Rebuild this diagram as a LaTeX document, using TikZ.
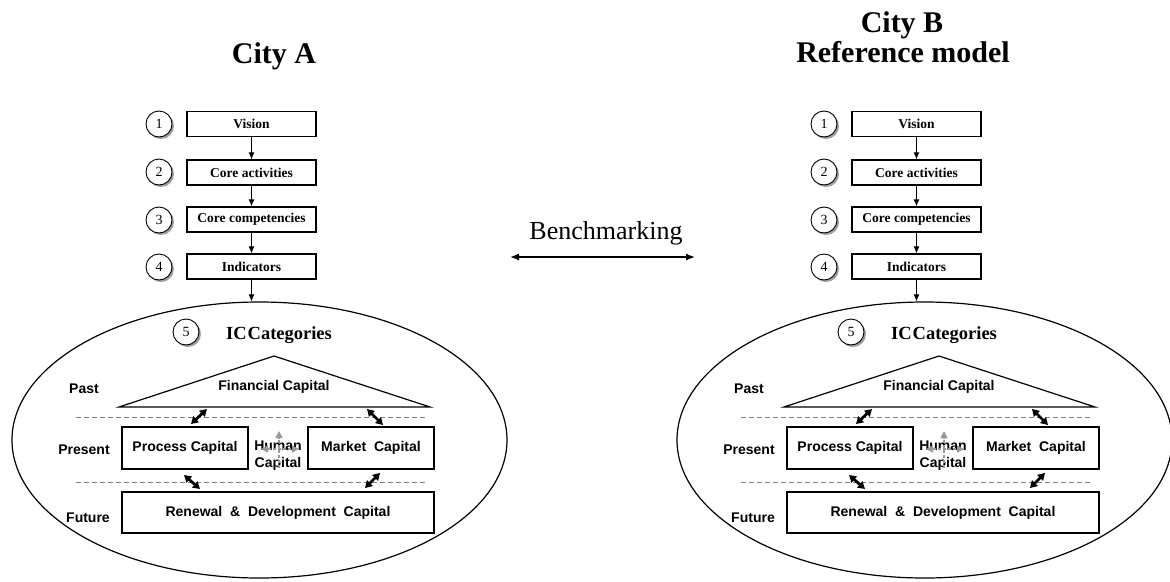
\documentclass[tikz,border=0pt]{standalone}
\usepackage{fontspec}
\setmainfont{Liberation Serif}
\setsansfont{Liberation Sans}
\usetikzlibrary{arrows.meta,shadows,shapes.geometric}

\tikzset{
  stagebox/.style={draw, line width=1.2pt, minimum width=129pt, minimum height=25pt, inner sep=0pt,
    font=\bfseries\fontsize{13.5}{15}\selectfont},
  numcirc/.style={circle, draw, line width=0.9pt, minimum size=26pt, inner sep=0pt, fill=white,
    font=\fontsize{14}{15}\selectfont,
    drop shadow={shadow xshift=2pt, shadow yshift=-2pt, fill=gray!75, opacity=1}},
  flowarrow/.style={-{Latex[length=7pt,width=6pt]}, line width=1.1pt},
  sanslab/.style={font=\sffamily\bfseries\fontsize{14}{16}\selectfont},
  capbox/.style={draw, line width=1.1pt, inner sep=0pt, sanslab},
  divider/.style={gray, line width=1pt, dash pattern=on 5pt off 3pt},
  linkarrow/.style={{Triangle[length=7pt,width=8pt]}-{Triangle[length=7pt,width=8pt]}, line width=2.8pt},
  humanarrow/.style={-{Triangle[length=7pt,width=7pt]}, gray!80, line width=1.6pt, dash pattern=on 3pt off 2pt},
  titletext/.style={font=\bfseries\fontsize{30}{30}\selectfont, anchor=base},
  bigell/.style={ellipse, draw, line width=1.2pt, minimum width=495pt, minimum height=276pt, inner sep=0pt},
}

\newcommand\citymodel[1]{%
  \node[numcirc] (#1c1) at (159,124) {1};
  \node[numcirc] (#1c2) at (159,172) {2};
  \node[numcirc] (#1c3) at (159,220) {3};
  \node[numcirc] (#1c4) at (159,267) {4};
  \node[stagebox] (#1b1) at (251.5,124) {Vision};
  \node[stagebox] (#1b2) at (251.5,172.5) {Core activities};
  \node[stagebox] (#1b3) at (251.5,219.5) {Core competencies};
  \node[stagebox] (#1b4) at (251.5,266.5) {Indicators};
  \draw[flowarrow] (#1b1) -- (#1b2);
  \draw[flowarrow] (#1b2) -- (#1b3);
  \draw[flowarrow] (#1b3) -- (#1b4);
  \node[bigell] (#1ell) at (259.5,440) {};
  \draw[flowarrow] (#1b4.south) -- (#1b4.south |- #1ell.north);
  \node[numcirc] (#1c5) at (186,332) {5};
  \node[font=\bfseries\fontsize{18.5}{20}\selectfont, anchor=base] (#1ic) at (279,339) {IC\kern1pt Categories};
  \node[sanslab] (#1past) at (84,389) {Past};
  \node[sanslab] (#1present) at (84,450) {Present};
  \node[sanslab] (#1future) at (88,518) {Future};
  \draw[line width=1.2pt, line join=miter] (119,407) -- (274,356) -- (430,407) -- cycle;
  \node[sanslab] (#1fin) at (274,387) {Financial Capital};
  \draw[divider] (76,417) -- (427,417);
  \draw[divider] (76,482) -- (427,482);
  \node[capbox, minimum width=126pt, minimum height=42pt] (#1proc) at (185,448) {Process Capital};
  \node[capbox, minimum width=126pt, minimum height=42pt] (#1mkt) at (371,448) {Market\ \ Capital};
  \node[capbox, minimum width=312pt, minimum height=41pt] (#1ren) at (278,512.5) {Renewal\ \ \&\ \ Development\ \ Capital};
  \node[sanslab, align=center, inner sep=0pt] (#1hum) at (278,456) {Human\\[1pt]Capital};
  \draw[humanarrow] (279,468) -- (279,431);
  \draw[humanarrow, {Triangle[length=7pt,width=7pt]}-{Triangle[length=7pt,width=7pt]}] (261,449) -- (299,449);
  \draw[linkarrow] (191,424) -- (207,409);
  \draw[linkarrow] (367,409) -- (383,425);
  \draw[linkarrow] (184,475) -- (200,489);
  \draw[linkarrow] (365,488) -- (380,473);
}

\begin{document}
\begin{tikzpicture}[x=1pt, y=-1pt]
  \useasboundingbox (0,0) rectangle (1170,581);
  \node[titletext] (titleA) at (274,63) {City A};
  \node[titletext] (titleB) at (902,32) {City B};
  \node[titletext] (titleB2) at (903,62) {Reference model};
  \node[font=\fontsize{26}{28}\selectfont, anchor=base] (bench) at (606,239) {Benchmarking};
  \coordinate (benchL) at (510,257);
  \coordinate (benchR) at (695,257);
  \draw[{Latex[length=9pt,width=7pt]}-{Latex[length=9pt,width=7pt]}, line width=1.3pt] (benchL) -- (benchR);
  \begin{scope}
    \citymodel{A}
  \end{scope}
  \begin{scope}[xshift=665pt]
    \citymodel{B}
  \end{scope}
\end{tikzpicture}
\end{document}
